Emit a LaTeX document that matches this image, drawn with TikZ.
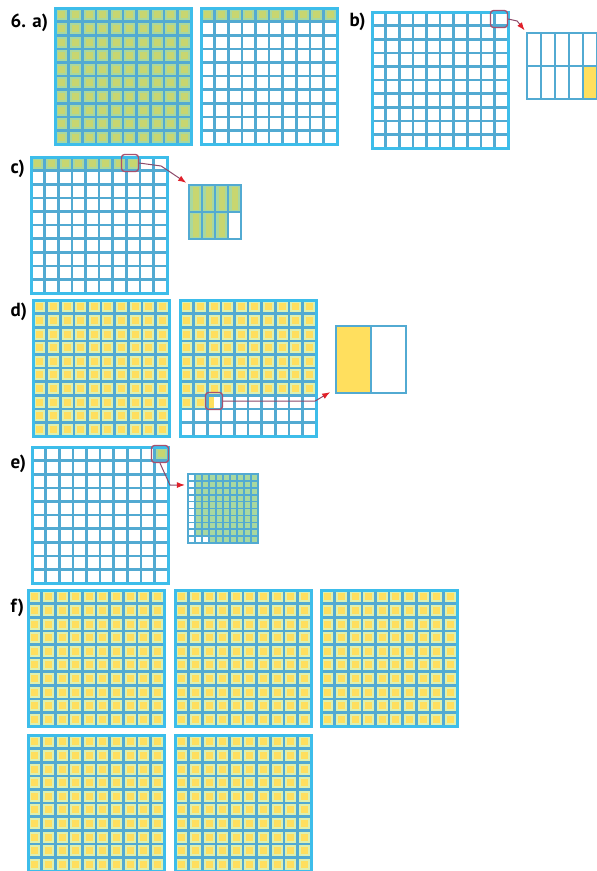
\documentclass[tikz,border=0pt]{standalone}
\usepackage{fontspec}
\setmainfont{PT Sans}
\usetikzlibrary{arrows.meta,calc}
\definecolor{gridline}{HTML}{52AAD2}
\definecolor{gridedge}{HTML}{3DBDEA}
\definecolor{edgeY}{HTML}{DDF0B0}
\definecolor{coreY}{HTML}{FFDF5E}
\definecolor{edgeG}{HTML}{A8D8A0}
\definecolor{coreG}{HTML}{C8D670}
\definecolor{boxred}{HTML}{A8506E}
\definecolor{arrline}{HTML}{8C4A6A}
\definecolor{arrred}{HTML}{E0202A}

% 10x10 grid: name, left, top, colour (Y/G), filled cells
\newcommand{\hundred}[5]{%
  \node[gridnode] (#1) at ({#2+68},{#3+68}) {};
  \ifnum#5>0
    \foreach \k in {1,...,#5}{
      \pgfmathtruncatemacro{\rr}{(\k-1)/10}
      \pgfmathtruncatemacro{\cc}{mod(\k-1,10)}
      \fill[edge#4] ({#2+\cc*13.6},{#3+\rr*13.6}) rectangle ++(13.6,13.6);
      \fill[core#4] ({#2+\cc*13.6+3.3},{#3+\rr*13.6+3.3}) rectangle ++(7,7);
    }
  \fi
  \foreach \i in {1,...,9}{
    \draw[gridin] ({#2+\i*13.6},#3) -- ++(0,136);
    \draw[gridin] (#2,{#3+\i*13.6}) -- ++(136,0);
  }
  \draw[gridout] (#2,#3) rectangle ++(136,136);
}

\begin{document}
\begin{tikzpicture}[
  x=1pt,y=-1pt,
  gridnode/.style={minimum size=136pt,inner sep=0pt},
  gridin/.style={gridline,line width=2.6pt},
  gridout/.style={gridedge,line width=3pt},
  zoombox/.style={draw=gridline,line width=2.2pt,inner sep=0pt},
  zoomline/.style={gridline,line width=2pt},
  hilite/.style={draw=boxred,rounded corners=3pt,line width=1.3pt,
                 minimum size=17pt,inner sep=0pt},
  zoomarr/.style={arrline,line width=1pt,shorten >=2pt,
                  -{Latex[length=8pt,width=6pt,color=arrred]}},
  lbl/.style={anchor=base west,font=\fontsize{19}{22}\selectfont\bfseries}
]
\useasboundingbox (0,0) rectangle (597,871);

% a)
\hundred{a1}{55}{8}{G}{100}
\hundred{a2}{201}{8}{G}{10}

% b)
\hundred{b1}{372}{12}{G}{0}
\fill[coreY] (583,66) rectangle (597,99);
\foreach \i in {1,...,4}
  \draw[zoomline] ({527+\i*14},33) -- ++(0,66);
\draw[zoomline] (527,66) -- (597,66);
\node[zoombox,minimum width=70pt,minimum height=66pt] (bzoom) at (562,66) {};
\node[hilite] (bbox) at (499,19) {};
\draw[zoomarr] (bbox.east) -- ++(9,2) -- (bzoom.north west);

% c)
\hundred{c1}{31}{157}{G}{8}
\foreach \c/\r in {0/0,1/0,2/0,3/0,0/1,1/1,2/1}{
  \fill[edgeG] ({189+\c*13},{185+\r*27}) rectangle ++(13,27);
  \fill[coreG] ({189+\c*13+3.5},{185+\r*27+2}) rectangle ++(6,23);
}
\foreach \i in {1,...,3}
  \draw[zoomline] ({189+\i*13},185) -- ++(0,54);
\draw[zoomline] (189,212) -- (241,212);
\node[zoombox,minimum width=52pt,minimum height=54pt] (czoom) at (215,212) {};
\node[hilite] (cbox) at (130,163) {};
\draw[zoomarr] (cbox.east) -- ++(22,3) -- (czoom.north west);

% d)
\hundred{d1}{33}{300}{Y}{100}
\fill[coreY] (207.2,395.2) rectangle (214,408.8);
\hundred{d2}{180}{300}{Y}{72}
\fill[coreY] (336,326) rectangle (371,393);
\draw[zoomline] (371,326) -- (371,393);
\node[zoombox,minimum width=70pt,minimum height=67pt] (dzoom) at (371,359.5) {};
\node[hilite] (dbox) at (214,401) {};
\draw[zoomarr] (dbox.east) -- ++(92,0) -- ($(dzoom.south west)+(-3,-3)$);

% e)
\fill[edgeG] (154.4,447) rectangle ++(13.6,13.6);
\fill[coreG] (157.7,450.3) rectangle ++(7,7);
\hundred{e1}{32}{447}{G}{0}
\fill[edgeG] (195,474) rectangle (258,536);
\fill[edgeG] (209,536) rectangle (258,543);
\foreach \i in {1,...,9}{
  \draw[gridline,line width=1.6pt] ({188+\i*7},474) -- ++(0,69);
  \draw[gridline,line width=1.6pt] (188,{474+\i*6.9}) -- ++(70,0);
}
\node[zoombox,minimum width=70pt,minimum height=69pt] (ezoom) at (223,508.5) {};
\node[hilite] (ebox) at (160,454) {};
\draw[zoomarr] (ebox.south) -- ++(10,22) -- ($(ezoom.north west)+(0,12)$);

% f)
\hundred{f1}{28}{590}{Y}{100}
\hundred{f2}{175}{590}{Y}{100}
\hundred{f3}{321}{590}{Y}{100}
\hundred{f4}{28}{735}{Y}{100}
\hundred{f5}{175}{735}{Y}{100}

% labels
\node[lbl] (la) at (7,27) {6. a)};
\node[lbl] (lb) at (346,26) {b)};
\node[lbl] (lc) at (7,173) {c)};
\node[lbl] (ld) at (7,316) {d)};
\node[lbl] (le) at (7,468) {e)};
\node[lbl] (lf) at (7,612) {f)};
\end{tikzpicture}
\end{document}
